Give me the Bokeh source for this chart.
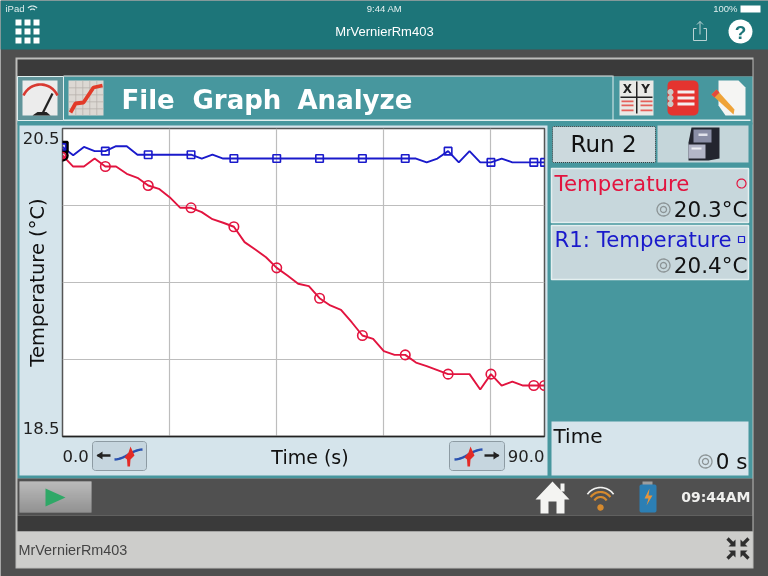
import numpy as np
from bokeh.core.properties import value
from bokeh.embed import file_html
from bokeh.models import FixedTicker, Range1d
from bokeh.plotting import figure
from bokeh.resources import INLINE

times = list(range(0, 91, 2))
temperature = [20.325, 20.253, 20.253, 20.305, 20.253, 20.253, 20.206, 20.18, 20.13, 20.108,
               20.054, 19.985, 19.985, 19.957, 19.911, 19.888, 19.862, 19.762, 19.714, 19.664,
               19.595, 19.545, 19.492, 19.476, 19.398, 19.351, 19.323, 19.242, 19.156, 19.134,
               19.054, 19.03, 19.03, 18.98, 18.957, 18.931, 18.905, 18.905, 18.905, 18.805,
               18.905, 18.831, 18.857, 18.831, 18.831, 18.831]
r1_temperature = [20.38, 20.327, 20.38, 20.353, 20.353, 20.385, 20.385, 20.33, 20.33, 20.33,
                  20.33, 20.33, 20.33, 20.305, 20.33, 20.305, 20.305, 20.305, 20.305, 20.305,
                  20.305, 20.305, 20.305, 20.305, 20.305, 20.305, 20.305, 20.305, 20.305, 20.305,
                  20.305, 20.305, 20.305, 20.305, 20.28, 20.305, 20.353, 20.28, 20.353, 20.28,
                  20.28, 20.305, 20.28, 20.28, 20.28, 20.28]
x_grid = [20, 40, 60, 80]
y_grid = [19.0, 19.5, 20.0]
x_range = (0, 90)
y_range = (18.5, 20.5)
y_tick_labels = ["20.5", "18.5"]
x_tick_labels = ["0.0", "90.0"]
RED, BLUE = "#e2143f", "#1a1acb"
SANS, ARIAL = "DejaVu Sans", "Liberation Sans"
PIN = {"position": "fixed", "left": "0", "top": "0"}

# ---- application window behind the graph (its own figure, in window pixels)
bg = figure(width=768, height=576, output_backend="svg", toolbar_location=None,
            x_range=Range1d(0, 768), y_range=Range1d(576, 0), x_axis_location=None, y_axis_location=None,
            min_border=0, background_fill_color="#4f4f4f", border_fill_color="#4f4f4f", outline_line_color=None)
bg.grid.visible = False
bg.styles = PIN

def box(l, t, r, b, fill, line=None, lw=1):
    bg.quad(left=[l], right=[r], top=[t], bottom=[b], fill_color=fill, line_color=line, line_width=lw)

def rbox(l, t, r, b, rad, fill, line=None, lw=1, dash="solid"):
    a = np.radians(np.linspace(0, 90, 6))
    c, s = rad*np.cos(a), rad*np.sin(a)
    xs = np.r_[r - rad + c, l + rad - s, l + rad - c, r - rad + s]
    ys = np.r_[b - rad + s, b - rad + c, t + rad - s, t + rad - c]
    bg.patch(xs, ys, fill_color=fill, line_color=line, line_width=lw, line_dash=dash)

def poly(xs, ys, fill):
    bg.patch(list(xs), list(ys), fill_color=fill, line_color=None)

def stroke(xs, ys, color, lw):
    bg.line(list(xs), list(ys), line_color=color, line_width=lw)

def arc(cx, cy, r, a0, a1, color=None, lw=1, fill=None):
    a = np.radians(np.linspace(a0, a1, 30))
    if fill:
        poly(cx + r*np.cos(a), cy - r*np.sin(a), fill)
    else:
        stroke(cx + r*np.cos(a), cy - r*np.sin(a), color, lw)

def text(x, y, s, size, color="#111111", font=SANS, align="left", style="normal"):
    bg.text([x], [y], text=[s], text_font=value(font), text_font_size=value(f"{size}px"), text_color=color,
            text_align=align, text_baseline="middle", text_font_style=style)

def target(cx, cy):
    arc(cx, cy, 6.5, 0, 360, "#8c9496", 1.3)
    arc(cx, cy, 3, 0, 360, "#8c9496", 1.3)

box(0, 0, 768, 49, "#1d7579")
box(15, 57, 753, 568, "#bdbdbb")
box(17, 59, 752, 76, "#3a3a3a")
box(17, 76, 752, 124, "#47979e")
box(63, 75, 612, 76, "#dfeeee")
box(612, 75, 613, 120, "#dfeeee")
box(63, 119, 750, 120.5, "#dfeeee")
box(17, 76, 63, 120, "#60949a", "#dfeeee", 1)
box(17, 122, 752, 478, "#47979e")
box(19, 125, 547, 475, "#d5e4eb")
rbox(552, 126, 655, 162, 1, "#ccd9dd", "#33393b", 1, "1 1")
box(657, 125, 748, 162, "#c5d6da")
box(551, 168, 748, 222, "#c7d7dc", "#e4eff0", 1.5)
box(551, 225, 748, 279, "#c7d7dc", "#e4eff0", 1.5)
box(551, 421, 748, 475, "#d6e4eb")
box(17, 478, 752, 515, "#505050")
box(17, 515, 752, 531, "#3a3a3a")
box(16, 531, 752, 567, "#cdcdcb")

# top bar
for gx in (15, 24, 33):
    for gy in (19, 28, 37):
        box(gx, gy, gx + 6, gy + 6, "#ffffff")
text(5, 8, "iPad", 9.5, "#dfeeee", ARIAL)
arc(32, 11.5, 6, 40, 140, "#dfeeee", 1.2)
arc(32, 11.5, 3, 40, 140, "#dfeeee", 1.2)
text(384, 8, "9:44 AM", 9.5, "#e6f1f1", ARIAL, "center")
text(737, 8, "100%", 9.5, "#dfeeee", ARIAL, "right")
box(740, 5, 760, 12, "#ffffff")
text(384, 31, "MrVernierRm403", 13, "#ffffff", ARIAL, "center")
stroke([696, 693, 693, 706, 706, 703], [28, 28, 40, 40, 28, 28], "#b9d3d4", 1)
stroke([699.5, 699.5], [34, 21], "#b9d3d4", 1)
stroke([696.5, 699.5, 702.5], [24, 21, 24], "#b9d3d4", 1)
arc(740, 31, 12, 0, 360, fill="#ffffff")
text(740, 31.5, "?", 19, "#1d7579", ARIAL, "center", "bold")

# gauge and graph tabs
box(22, 80, 57, 115, "#ececec")
arc(40, 102.6, 18.6, 24, 156, "#d83a32", 2.6)
stroke([42, 52], [113, 93], "#222222", 2.2)
poly([32, 50, 46, 37], [115, 115, 111.5, 111.5], "#222222")
box(68, 80, 103, 115, "#dcd8d3")
for k in range(1, 5):
    box(68, 80 + k*7, 103, 80.7 + k*7, "#b3aea9")
    box(68 + k*7, 80, 68.7 + k*7, 115, "#b3aea9")
stroke([70, 75, 83, 93, 102], [112, 103, 102, 87, 85], "#e23a28", 3.8)
text(121, 99, "File", 26, "#ffffff", SANS, "left", "bold")
text(192, 99, "Graph", 26, "#ffffff", SANS, "left", "bold")
text(297, 99, "Analyze", 26, "#ffffff", SANS, "left", "bold")

# top right tools
box(619, 80, 653, 115, "#e9e9e6")
box(635.5, 81, 637, 113, "#222222")
box(620, 96, 652, 97.5, "#222222")
text(627, 88, "X", 12, "#222222", SANS, "center", "bold")
text(645, 88, "Y", 12, "#222222", SANS, "center", "bold")
for yy in (100, 104, 109):
    box(621, yy, 633, yy + 1.8, "#e5605a")
    box(640, yy, 652, yy + 1.8, "#e5605a")
rbox(667, 80, 698, 115, 5, "#e4342f")
for yy in (90, 96, 102):
    box(677, yy, 694, yy + 3, "#f4eeee")
    arc(670, yy + 1.5, 3, 0, 360, fill="#c9c9c5")
poly([718, 738, 745, 745, 725, 718], [80, 80, 87, 115, 115, 105], "#f5f5f3")
poly([711, 716, 734, 733], [94, 89, 109, 114], "#efa338")
poly([711, 716, 719, 714], [94, 89, 92, 97], "#e34a3d")

# run panel
text(603, 143, "Run 2", 23, "#111111", SANS, "center")
poly([691, 719, 719, 708, 688, 688], [127, 127, 158, 160, 160, 142], "#23252f")
box(693, 129, 711, 142, "#8a8ea6")
box(698, 133, 707, 135.5, "#e0e1ea")
box(688, 144, 705, 158, "#b3b6c8")
box(691, 147, 701, 149, "#eeeff4")
text(554, 183, "Temperature", 21.3, RED)
arc(741, 183, 4.5, 0, 360, RED, 1.2)
text(747, 209, "20.3°C", 21.5, "#111111", SANS, "right")
target(663, 209)
text(554, 239, "R1: Temperature", 21.3, BLUE)
box(738, 236, 744, 242, None, BLUE, 1.2)
text(747, 265, "20.4°C", 21.5, "#111111", SANS, "right")
target(663, 265)
text(553, 435, "Time", 20)
text(747, 461, "0 s", 21.5, "#111111", SANS, "right")
target(705, 461)

# scale buttons under the graph
def squiggle(dx):
    a = np.linspace(0, 1, 14)
    stroke(dx + 28*a, 458 - 5*np.sin((a - .5)*np.pi) - 4, "#2a52b0", 2.4)
    poly(dx + np.array([10, 14, 16, 20, 16, 15.5, 13, 12.5]), [457, 452, 446, 455, 459, 466, 466, 459], "#e32b26")
for l, r, sq, ax in ((92, 146, 114, [97, 110]), (449, 504, 454, [484, 498])):
    rbox(l, 441, r, 470, 3, "#c6d6df", "#8d9ba3", 1)
    squiggle(sq)
    stroke(ax, [455, 455], "#222222", 2.4)
poly([96, 102, 102], [455, 451, 459], "#222222")
poly([499, 493, 493], [455, 451, 459], "#222222")

# bottom toolbar
for i in range(31):
    g = int(222 - 54*i/30)
    box(19, 481 + i, 91, 482 + i, f"#{g:02x}{g:02x}{g:02x}")
poly([45, 65, 45], [488, 497, 506], "#2fa867")
poly([535, 552, 569, 564, 564, 556, 556, 548, 548, 540, 540], [499, 481, 499, 499, 513, 513, 501, 501, 513, 513, 499], "#f4f4f2")
box(560, 483, 564, 491, "#f4f4f2")
arc(600, 503, 16, 35, 145, "#f2f2f0", 1.6)
arc(600, 503.5, 12, 35, 145, "#d68a2e", 2.2)
arc(600, 503.5, 7, 30, 150, "#d68a2e", 2.2)
arc(600, 507, 3.2, 0, 360, fill="#d68a2e")
box(642, 481, 652, 485, "#9e9e9e")
rbox(639, 484, 656, 512, 2, "#2c7fb4")
poly([649, 644, 648, 646, 652, 648], [488, 498, 498, 505, 495, 495], "#e7953a")
text(750, 496, "09:44AM", 14, "#f0f0ee", SANS, "right", "bold")

# status strip
text(18, 549, "MrVernierRm403", 14.4, "#444444", ARIAL)
for sx, cx in ((-1, 735), (1, 740)):
    for sy, cy in ((-1, 546), (1, 550)):
        stroke([cx + sx*1.5, cx + sx*8], [cy + sy*1.5, cy + sy*8], "#2e2e2e", 3.2)
        poly([cx, cx + sx*7, cx], [cy, cy, cy + sy*7], "#2e2e2e")

# scale end labels sit inside the axis band, so they are placed beside the frame
text(59, 137, y_tick_labels[0], 16.5, "#222222", SANS, "right")
text(59, 427, y_tick_labels[1], 16.5, "#222222", SANS, "right")
text(62, 455, x_tick_labels[0], 16.5, "#222222")
text(544, 455, x_tick_labels[1], 16.5, "#222222", SANS, "right")
text(309.5, 456, "Time (s)", 19, "#111111", SANS, "center")

# ---- the graph
p = figure(width=768, height=576, output_backend="svg", toolbar_location=None,
           x_range=Range1d(*x_range), y_range=Range1d(*y_range),
           min_border_left=62, min_border_right=224, min_border_top=128, min_border_bottom=140,
           border_fill_color=None, background_fill_color="#ffffff",
           outline_line_color="#555555", outline_line_width=1.5)
p.styles = PIN
p.xaxis.ticker = FixedTicker(ticks=x_grid)
p.yaxis.ticker = FixedTicker(ticks=y_grid)
p.xaxis.major_label_overrides = {t: "" for t in x_grid}
p.yaxis.major_label_overrides = {t: "" for t in y_grid}
for ax in (p.xaxis[0], p.yaxis[0]):
    ax.major_tick_line_color = None
    ax.minor_tick_line_color = None
    ax.major_label_standoff = 0
p.yaxis.axis_line_color = None
p.xaxis.axis_line_color = "#222222"
p.xaxis.axis_line_width = 1.5
p.yaxis.axis_label = "Temperature (°C)"
p.yaxis.axis_label_text_font = SANS
p.yaxis.axis_label_text_font_size = "19.5px"
p.yaxis.axis_label_text_font_style = "normal"
p.yaxis.axis_label_text_color = "#111111"
p.yaxis.axis_label_standoff = 8
for g in (p.xgrid[0], p.ygrid[0]):
    g.grid_line_color = "#bdbdbd"
    g.grid_line_width = 1.2

p.line(times, r1_temperature, line_color=BLUE, line_width=1.9)
p.line(times, temperature, line_color=RED, line_width=1.9)
mark_t = times[::4] + times[-1:]
p.scatter(mark_t, r1_temperature[::4] + r1_temperature[-1:], marker="square", size=7.5, fill_color=None, line_color=BLUE, line_width=1.6)
p.scatter(mark_t, temperature[::4] + temperature[-1:], marker="circle", size=9.5, fill_color=None, line_color=RED, line_width=1.6)
p.scatter(times[:1], r1_temperature[:1], marker="square", size=10, fill_color=None, line_color="#000000", line_width=2.5)
p.scatter(times[:1], temperature[:1], marker="circle", size=10, fill_color=None, line_color="#000000", line_width=2.5)
p.scatter(times[:1], r1_temperature[:1], marker="square", size=6, fill_color=None, line_color=BLUE, line_width=1.5)
p.scatter(times[:1], temperature[:1], marker="circle", size=6, fill_color=None, line_color=RED, line_width=1.5)

open("out.html", "w").write(file_html([bg, p], INLINE))
